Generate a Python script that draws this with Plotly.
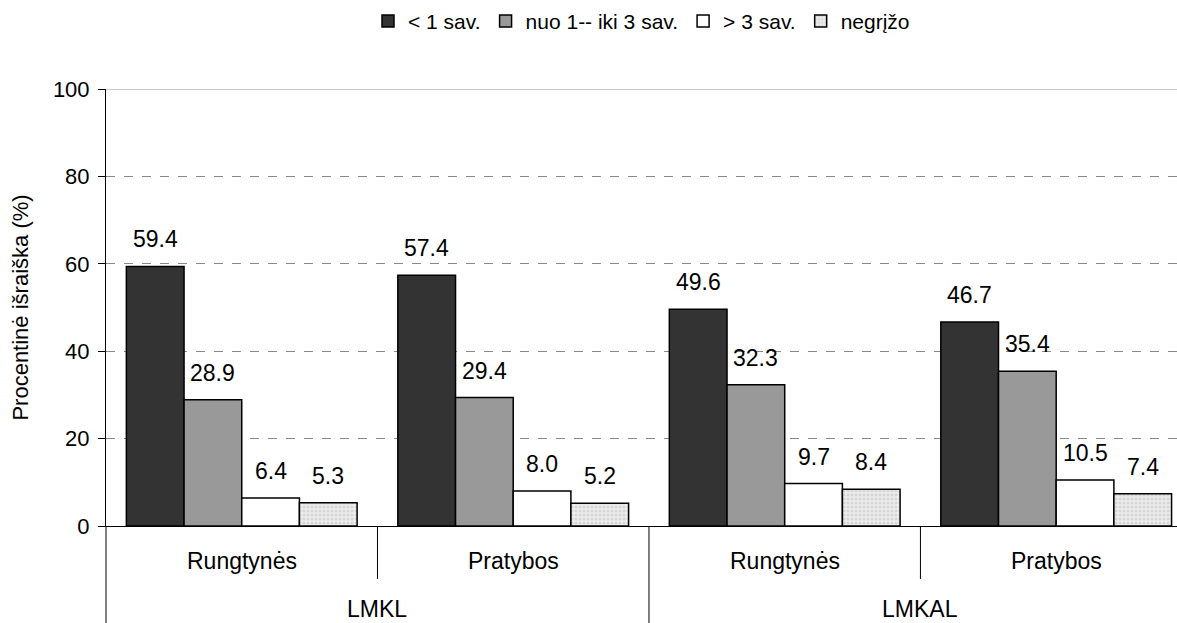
import plotly.graph_objects as go

groups = ["LMKL", "LMKL", "LMKAL", "LMKAL"]
subcats = ["Rungtynės", "Pratybos", "Rungtynės", "Pratybos"]
series_names = ["< 1 sav.", "nuo 1-- iki 3 sav.", "> 3 sav.", "negrįžo"]
lt1 = [59.4, 57.4, 49.6, 46.7]
w1to3 = [28.9, 29.4, 32.3, 35.4]
gt3 = [6.4, 8.0, 9.7, 10.5]
notback = [5.3, 5.2, 8.4, 7.4]
yticks = [0, 20, 40, 60, 80, 100]

series = [lt1, w1to3, gt3, notback]
colors = ["#333333", "#999999", "#ffffff", "#ebebeb"]
FONT = "Liberation Sans, Arial, sans-serif"

xs = list(range(len(subcats)))
bargap = 0.15
nser = len(series)
bw = (1 - bargap) / nser

fig = go.Figure()
for k, (name, vals) in enumerate(zip(series_names, series)):
    marker = dict(color=colors[k], line=dict(color="#000000", width=1.5))
    if k == 3:
        marker["pattern"] = dict(shape=".", fgcolor="#bdbdbd", bgcolor="#ededed",
                                 size=4, solidity=0.45)
    fig.add_trace(go.Bar(x=xs, y=vals, name=name, marker=marker))

annotations = []
for k, vals in enumerate(series):
    off = (k - (nser - 1) / 2) * bw
    for i, v in enumerate(vals):
        annotations.append(dict(x=i + off, y=v, xref="x", yref="y", text=f"{v:.1f}",
                                showarrow=False, yshift=27,
                                font=dict(size=23, color="#000", family=FONT)))
for i, s in enumerate(subcats):
    annotations.append(dict(x=i, y=-0.08, xref="x", yref="paper", yanchor="middle",
                            text=s, showarrow=False,
                            font=dict(size=23, color="#000", family=FONT)))
outer = []
for i, g in enumerate(groups):
    if g not in [o[0] for o in outer]:
        outer.append([g, [i]])
    else:
        [o for o in outer if o[0] == g][0][1].append(i)
for g, idx in outer:
    annotations.append(dict(x=sum(idx) / len(idx), y=-0.19, xref="x", yref="paper",
                            yanchor="middle", text=g, showarrow=False,
                            font=dict(size=23, color="#000", family=FONT)))

shapes = [dict(type="line", xref="paper", yref="paper", x0=0, x1=0, y0=0, y1=-0.23,
               line=dict(color="#000", width=1)),
          dict(type="line", xref="paper", yref="y", x0=0, x1=1, y0=100, y1=100,
               line=dict(color="#999999", width=1))]
for i in range(len(subcats) - 1):
    long = groups[i] != groups[i + 1]
    shapes.append(dict(type="line", xref="x", yref="paper", x0=i + 0.5, x1=i + 0.5,
                       y0=0, y1=-0.23 if long else -0.121,
                       line=dict(color="#000", width=1)))

fig.update_layout(
    width=1177, height=623,
    margin=dict(l=106, r=0, t=89, b=97),
    paper_bgcolor="white", plot_bgcolor="white",
    font=dict(family=FONT, color="#000"),
    barmode="group", bargap=bargap, bargroupgap=0,
    showlegend=True,
    legend=dict(orientation="h", x=0.5, xanchor="center", y=1.155, yanchor="middle",
                font=dict(size=21, family=FONT), itemwidth=30, traceorder="normal"),
    annotations=annotations, shapes=shapes,
)
fig.update_xaxes(range=[-0.5, 3.445], showticklabels=False, ticks="", showgrid=False,
                 showline=True, linecolor="#000", linewidth=1, zeroline=False, fixedrange=True)
fig.update_yaxes(range=[0, 100], tickvals=yticks, showgrid=True, gridcolor="#888888",
                 griddash="dash", gridwidth=1, showline=True, linecolor="#000", linewidth=1,
                 ticks="outside", ticklen=7, tickcolor="#000", zeroline=False,
                 ticklabelstandoff=4,
                 tickfont=dict(size=22, family=FONT),
                 title=dict(text="Procentinė išraiška (%)", font=dict(size=22, family=FONT),
                            standoff=18))

fig.write_html("out.html", config={"displayModeBar": False},
               post_script="document.body.style.margin='0';")
